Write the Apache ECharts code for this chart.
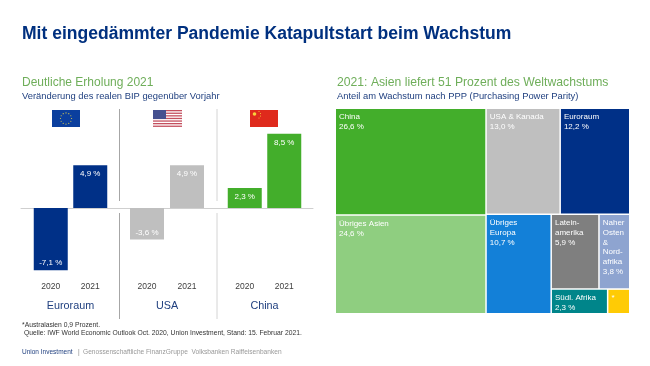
<!DOCTYPE html>
<html><head><meta charset="utf-8">
<style>html,body{margin:0;padding:0;background:#fff}#c{width:650px;height:366px}</style>
<script src="https://cdn.jsdelivr.net/npm/echarts@6/dist/echarts.min.js"></script>
</head><body><div id="c"></div>
<script>
const years = ['2020','2021'];
const regions = ['Euroraum','USA','China'];
const euroValues = [-7.1,4.9];
const usaValues = [-3.6,4.9];
const chinaValues = [2.3,8.5];
const treeNames = {china:'China',asia:'Übriges Asien',usa:'USA & Kanada',euro:'Euroraum',europe:'Übriges\nEuropa',latam:'Latein-\namerika',mena:'Naher\nOsten\n&\nNord-\nafrika',africa:'Südl. Afrika',aus:'*'};
const treeValues = {china:26.6,asia:24.6,usa:13.0,euro:12.2,europe:10.7,latam:5.9,mena:3.8,africa:2.3,aus:0.9};

const NAVY='#003087',GREY='#bfbfbf',GREEN='#43ae2b',TXT='#1f3f7f',LG='#6fae5a';
const fmt=v=>v.toFixed(1).replace('.',',')+' %';
const gridX=[[31,79],[127,80],[225,79]];
const barData=[euroValues,usaValues,chinaValues];
const barColors=[NAVY,GREY,GREEN];
const yMin=-8,yMax=9;
const gTop=129.25,gH=148.75;

const grids=[],xAxes=[],yAxes=[],series=[];
grids.push({left:21,width:292,top:gTop,height:gH});
xAxes.push({gridIndex:0,type:'category',data:[''],axisLine:{show:true,onZero:true,lineStyle:{color:'#cfcfcf',width:1}},axisTick:{show:false},axisLabel:{show:false}});
yAxes.push({gridIndex:0,type:'value',min:yMin,max:yMax,show:false,splitLine:{show:false}});
regions.forEach((r,i)=>{
  const k=i+1;
  grids.push({left:gridX[i][0],width:gridX[i][1],top:gTop,height:gH});
  xAxes.push({gridIndex:k,type:'category',data:years,position:'bottom',
    axisLine:{show:false,onZero:false},axisTick:{show:false},
    axisLabel:{color:'#404040',fontSize:8.5,fontFamily:'Liberation Sans',margin:4},
    name:r,nameLocation:'middle',nameGap:23,nameTextStyle:{color:TXT,fontSize:10.8,fontFamily:'Liberation Sans'}});
  yAxes.push({gridIndex:k,type:'value',min:yMin,max:yMax,show:false,splitLine:{show:false}});
  series.push({type:'bar',xAxisIndex:k,yAxisIndex:k,data:barData[i],barWidth:34,silent:true,
    itemStyle:{color:barColors[i]},
    label:{show:true,position:'insideTop',distance:5,color:'#fff',fontSize:8,fontFamily:'Liberation Sans',formatter:p=>fmt(p.value)}});
});
series.forEach(s=>{
  s.data=s.data.map(v=>v<0?{value:v,label:{position:'insideBottom',distance:3}}:v);
});

function leaf(key,color){
  return {name:treeNames[key],value:treeValues[key],itemStyle:{color:color}};
}
function group(name,children){
  return {name:name,value:children.reduce((a,c)=>a+c.value,0),children:children,itemStyle:{color:'#fff',borderWidth:0}};
}
const treeData=[
  group('a',[leaf('china',GREEN),leaf('asia','#8fce80')]),
  group('b',[
    group('b1',[leaf('usa',GREY),leaf('euro',NAVY)]),
    group('b2',[leaf('europe','#1380d8'),
      group('d',[
        group('e',[leaf('latam','#7f7f7f'),leaf('mena','#8ea4d0')]),
        group('f',[leaf('africa','#00858a'),leaf('aus','#ffcb05')])
      ])])
  ])
];
series.push({type:'treemap',left:336,top:109,width:293,height:204,roam:false,nodeClick:false,sort:false,
  breadcrumb:{show:false},squareRatio:1,silent:true,
  itemStyle:{gapWidth:1.5,borderWidth:0,borderColor:'#fff'},
  upperLabel:{show:false},
  label:{show:true,position:'insideTopLeft',distance:3,padding:0,color:'#fff',fontSize:8,lineHeight:9.7,fontFamily:'Liberation Sans',align:'left',verticalAlign:'top',overflow:'none',
    formatter:p=>p.name==='*'?'*':p.name+'\n'+fmt(p.value)},
  data:treeData});

const gfx=[];
[[119.5,'#a6a6a6'],[217,'#d4d4d4']].forEach(([x,c])=>{
  gfx.push({type:'line',shape:{x1:x,y1:109,x2:x,y2:201},style:{stroke:c,lineWidth:1}});
  gfx.push({type:'line',shape:{x1:x,y1:213,x2:x,y2:319},style:{stroke:c,lineWidth:1}});
});
gfx.push({type:'rect',shape:{x:52,y:110,width:28,height:17},style:{fill:'#0b3f9e'}});
for(let i=0;i<12;i++){const a=i*Math.PI/6;
  gfx.push({type:'circle',shape:{cx:66+5.6*Math.cos(a),cy:118.5+5.6*Math.sin(a),r:0.55},style:{fill:'#e8d64a'}});}
gfx.push({type:'rect',shape:{x:153,y:110,width:29,height:17},style:{fill:'#fff'}});
for(let i=0;i<7;i++){gfx.push({type:'rect',shape:{x:153,y:110+i*2.6,width:29,height:1.3},style:{fill:'#c4505f'}});}
gfx.push({type:'rect',shape:{x:153,y:110,width:13,height:9},style:{fill:'#45508f'}});
gfx.push({type:'rect',shape:{x:250,y:110,width:28,height:17},style:{fill:'#df2a1c'}});
gfx.push({type:'circle',shape:{cx:254.5,cy:114,r:1.8},style:{fill:'#f7d23c'}});
[[259,111.5],[260.5,113.5],[260.5,116],[259,118]].forEach(([x,y])=>gfx.push({type:'circle',shape:{cx:x,cy:y,r:0.5},style:{fill:'#f7d23c'}}));

const T=(text,left,top,size,color,extra)=>({text,left,top,padding:0,textStyle:{fontFamily:'Liberation Sans',fontSize:size,color,fontWeight:'normal',...extra}});
const option={
  animation:false,backgroundColor:'#fff',
  title:[
    T('Mit eingedämmter Pandemie Katapultstart beim Wachstum',22,25,17.55,'#00307f',{fontWeight:'bold'}),
    T('Deutliche Erholung 2021',22,77,12,LG),
    T('Veränderung des realen BIP gegenüber Vorjahr',22,92,9.4,TXT),
    T('2021: Asien liefert 51 Prozent des Weltwachstums',337,77,12.2,LG),
    T('Anteil am Wachstum nach PPP (Purchasing Power Parity)',337,92,9.4,TXT),
    T('*Australasien 0,9 Prozent.',22,322,6.75,'#333'),
    T('Quelle: IWF World Economic Outlook Oct. 2020, Union Investment, Stand: 15. Februar 2021.',24,330,6.75,'#333'),
    T('Union Investment',22,349,6.5,TXT),
    T('|',78,349,6.5,'#888'),
    T('Genossenschaftliche FinanzGruppe  Volksbanken Raiffeisenbanken',83,349,6.6,'#999')
  ],
  grid:grids,xAxis:xAxes,yAxis:yAxes,series:series,graphic:{elements:gfx}
};
const chart=echarts.init(document.getElementById('c'),null,{renderer:'canvas'});
chart.setOption(option);
</script></body></html>
